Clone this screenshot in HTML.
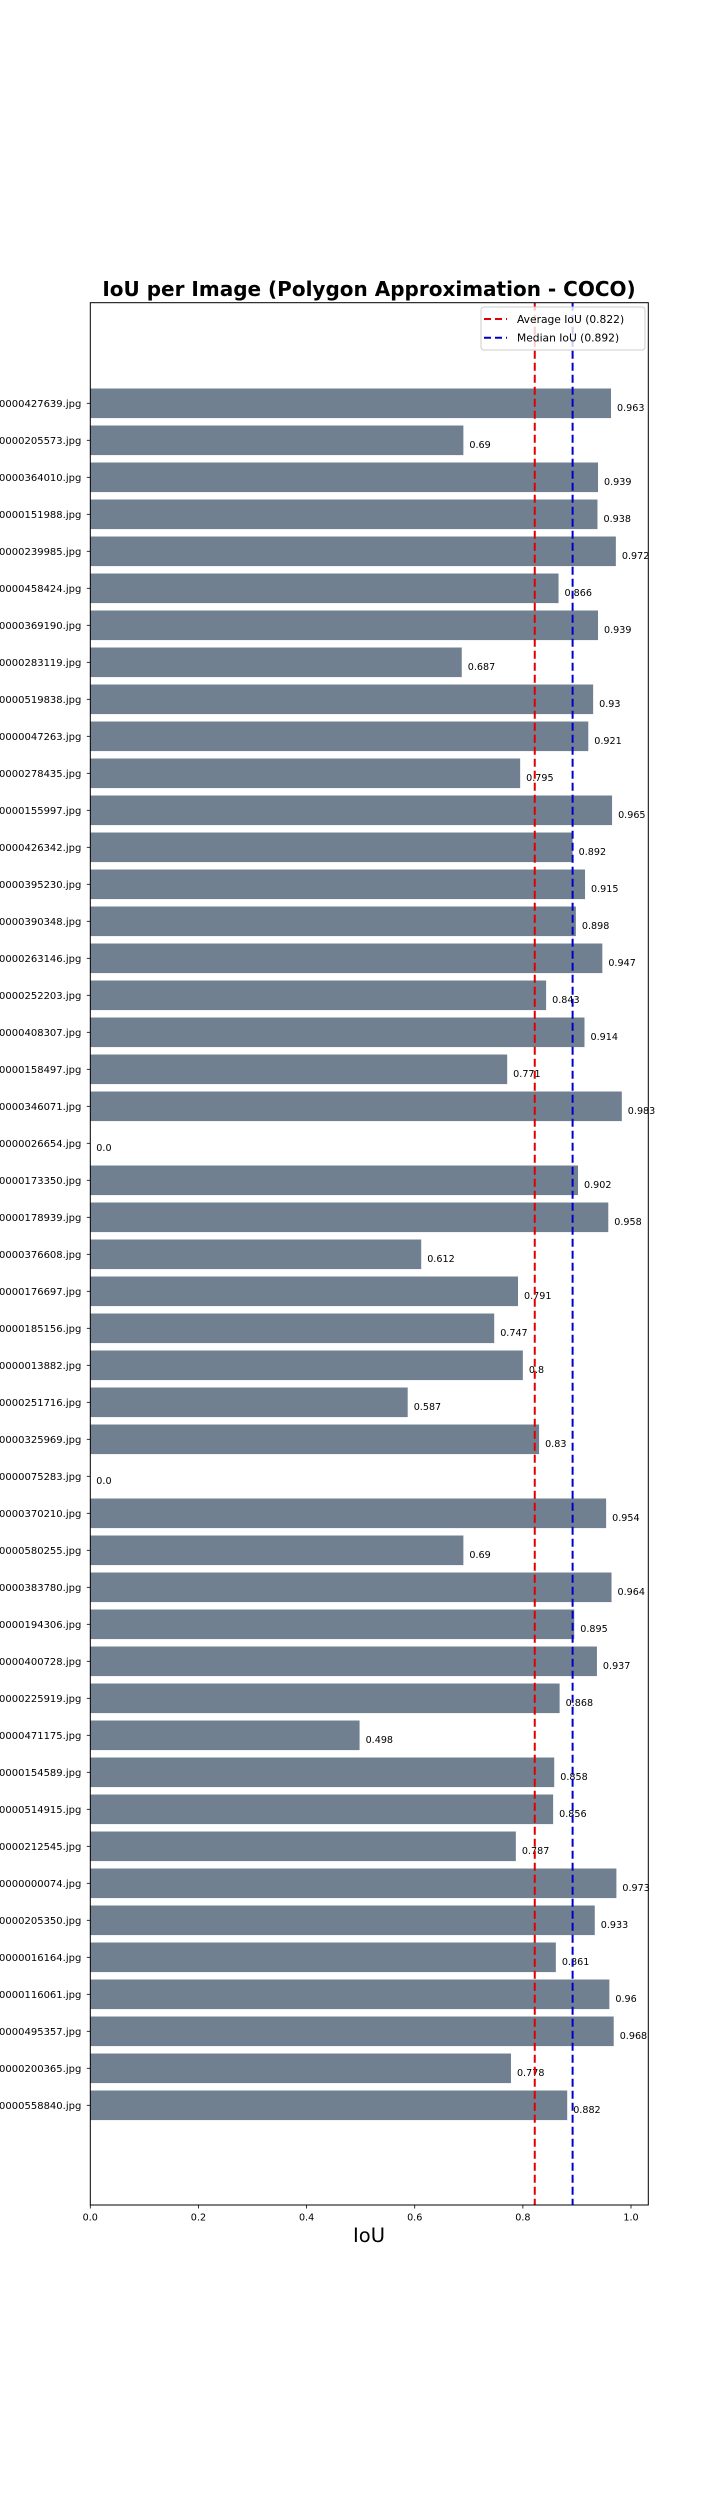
<!DOCTYPE html>
<html><head><meta charset="utf-8"><style>
html,body{margin:0;padding:0;background:#fff;}
svg{display:block;font-family:"DejaVu Sans","Liberation Sans",sans-serif;}
</style></head><body>
<svg id="chart" width="720" height="2520" viewBox="0 0 720 2520" xmlns="http://www.w3.org/2000/svg">
<text x="369" y="296" text-anchor="middle" font-size="20" font-weight="bold">IoU per Image (Polygon Approximation - COCO)</text>
<g id="bars"></g>
<g id="yticks"></g>
<g id="xticks"></g>
<g id="reflines"></g>
<rect x="90.3" y="302.7" width="558" height="1902.3" fill="none" stroke="#000" stroke-width="1"/>
<text x="369" y="2242" text-anchor="middle" font-size="19.5">IoU</text>
<g>
<rect x="481" y="307" width="164" height="43" rx="3" fill="#fff" fill-opacity="0.8" stroke="#ccc"/>
<line x1="484" y1="319" x2="507" y2="319" stroke="#e00000" stroke-width="2" stroke-dasharray="7,4"/>
<text x="517" y="322.8" font-size="10.7">Average IoU (0.822)</text>
<line x1="484" y1="337.7" x2="507" y2="337.7" stroke="#0000cc" stroke-width="2" stroke-dasharray="7,4"/>
<text x="517" y="341.5" font-size="10.7">Median IoU (0.892)</text>
</g>
</svg>
<script>
const imageIds = ["427639","205573","364010","151988","239985","458424","369190","283119","519838","047263","278435","155997","426342","395230","390348","263146","252203","408307","158497","346071","026654","173350","178939","376608","176697","185156","013882","251716","325969","075283","370210","580255","383780","194306","400728","225919","471175","154589","514915","212545","000074","205350","016164","116061","495357","200365","558840"];
const iouValues = [0.963,0.69,0.939,0.938,0.972,0.866,0.939,0.687,0.93,0.921,0.795,0.965,0.892,0.915,0.898,0.947,0.843,0.914,0.771,0.983,0.0,0.902,0.958,0.612,0.791,0.747,0.8,0.587,0.83,0.0,0.954,0.69,0.964,0.895,0.937,0.868,0.498,0.858,0.856,0.787,0.973,0.933,0.861,0.96,0.968,0.778,0.882];
const xTickValues = [0.0,0.2,0.4,0.6,0.8,1.0];
const xTickLabels = ["0.0","0.2","0.4","0.6","0.8","1.0"];
const averageIoU = 0.822;
const medianIoU = 0.892;

const NS = "http://www.w3.org/2000/svg";
const X0 = 90.3, XS = 540.7, TOP = 302.7, BOT = 2205;
const firstCenter = 403.3, pitch = 37;
function xPos(v){ return X0 + v * XS; }
function yPos(i){ return firstCenter + i * pitch; }
function mk(tag, attrs, parent){ const e = document.createElementNS(NS, tag); for (const k in attrs) e.setAttribute(k, attrs[k]); parent.appendChild(e); return e; }

const gb = document.getElementById("bars");
const gy = document.getElementById("yticks");
const gx = document.getElementById("xticks");
const gr = document.getElementById("reflines");
const bh = pitch * 0.8;

iouValues.forEach((v, i) => {
  const cy = yPos(i);
  const r = mk("rect", {x: X0, y: cy - bh/2, width: Math.max(0, xPos(v) - X0), height: bh, fill: "#708090"}, gb);
  
  
  const t = mk("text", {x: xPos(v) + 6, y: cy + 7.5, "font-size": 9.6}, gb);
  t.textContent = String(v === 0 ? "0.0" : v);
  
  
  const tk = mk("line", {x1: X0 - 3.5, x2: X0, y1: cy, y2: cy, stroke: "#000", "stroke-width": 0.8}, gy);
  
  
  const lb = mk("text", {x: X0 - 9, y: cy + 3.6, "font-size": 10, "text-anchor": "end"}, gy);
  lb.textContent = "000000" + imageIds[i] + ".jpg";
  
  
});

xTickValues.forEach((v, i) => {
  const x = xPos(v);
  const tk = mk("line", {x1: x, x2: x, y1: BOT, y2: BOT + 3.5, stroke: "#000", "stroke-width": 0.8}, gx);
  
  
  const lb = mk("text", {x: x, y: BOT + 15.5, "font-size": 9.6, "text-anchor": "middle"}, gx);
  lb.textContent = xTickLabels[i];
  
  
});

const avg = mk("line", {x1: xPos(averageIoU), x2: xPos(averageIoU), y1: TOP, y2: BOT, stroke: "#e00000", "stroke-width": 2, "stroke-dasharray": "8,4"}, gr);


const med = mk("line", {x1: xPos(medianIoU), x2: xPos(medianIoU), y1: TOP, y2: BOT, stroke: "#0000cc", "stroke-width": 2, "stroke-dasharray": "8,4"}, gr);


</script>
</body></html>
